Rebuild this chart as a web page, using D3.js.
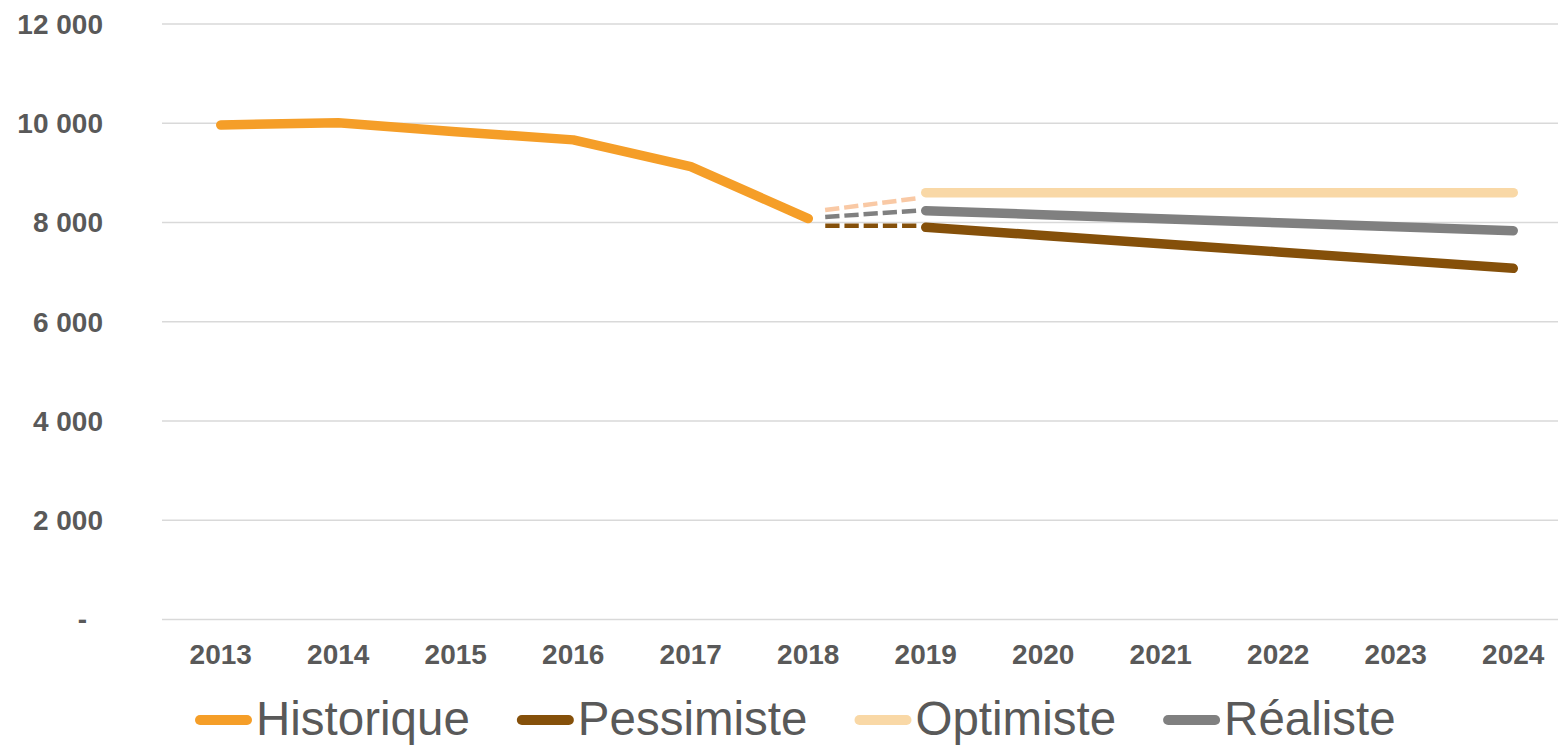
<!DOCTYPE html>
<html>
<head>
<meta charset="utf-8">
<script src="https://cdn.jsdelivr.net/npm/d3@7/dist/d3.min.js"></script>
<style>
  html, body { margin: 0; padding: 0; background: #fff; }
  svg { display: block; }
  text { font-family: "Liberation Sans", Arial, sans-serif; }
</style>
</head>
<body>
<svg id="chart" width="1558" height="745"></svg>
<script>
// ---- Data ----
const years = ["2013","2014","2015","2016","2017","2018","2019","2020","2021","2022","2023","2024"];
const historique = [9965, 10010, 9830, 9665, 9125, 8080, null, null, null, null, null, null];
const pessimiste = [null, null, null, null, null, null, 7903, 7738, 7573, 7407, 7242, 7077];
const optimiste  = [null, null, null, null, null, null, 8600, 8600, 8600, 8600, 8600, 8600];
const realiste   = [null, null, null, null, null, null, 8238, 8157, 8077, 7996, 7916, 7835];
// dashed transition segments (2018 -> 2019)
const transYears = ["2018", "2019"];
const transOptimiste  = [8207, 8510];
const transRealiste   = [8089, 8250];
const transPessimiste = [7935, 7935];
const yTicks = [0, 2000, 4000, 6000, 8000, 10000, 12000];
const yTickLabels = ["-", "2 000", "4 000", "6 000", "8 000", "10 000", "12 000"];
const legendNames = ["Historique", "Pessimiste", "Optimiste", "Réaliste"];

const colors = {
  Historique: "#F59E28",
  Pessimiste: "#85500A",
  Optimiste: "#F9D8A6",
  Réaliste: "#808080",
  transOpt: "#F9C9A5",
  transReal: "#808080",
  transPess: "#85500A"
};

const svg = d3.select("#chart");
const x = d3.scaleBand().domain(years).range([162, 1572]);
const y = d3.scaleLinear().domain([0, 12000]).range([619.5, 24]);
const cx = d => x(d) + x.bandwidth() / 2;

// gridlines
svg.append("g").selectAll("line").data(yTicks).join("line")
  .attr("x1", 162).attr("x2", 1558)
  .attr("y1", d => y(d)).attr("y2", d => y(d))
  .attr("stroke", "#D9D9D9").attr("stroke-width", 1.5);

// y labels
svg.append("g").selectAll("text").data(yTicks).join("text")
  .attr("x", d => d === 0 ? 87 : 103)
  .attr("y", d => y(d))
  .attr("dy", "0.35em")
  .attr("text-anchor", "end")
  .attr("font-size", 28).attr("font-weight", "bold")
  .attr("fill", "#595959")
  .text((d, i) => yTickLabels[i]);

// x labels
svg.append("g").selectAll("text").data(years).join("text")
  .attr("x", d => cx(d))
  .attr("y", 664)
  .attr("text-anchor", "middle")
  .attr("font-size", 28).attr("font-weight", "bold")
  .attr("fill", "#595959")
  .text(d => d);

// dashed transitions
const transLine = d3.line().x(d => cx(d.x)).y(d => y(d.v));
const dashPattern = "0,17,14.3,4.9,14.3,4.9,14.3,4.9,14.3,4.9,14.3,60";
[[transPessimiste, colors.transPess], [transRealiste, colors.transReal], [transOptimiste, colors.transOpt]]
  .forEach(([vals, col]) => {
    svg.append("path")
      .datum(transYears.map((yr, i) => ({x: yr, v: vals[i]})))
      .attr("d", transLine)
      .attr("fill", "none")
      .attr("stroke", col)
      .attr("stroke-width", 4.5)
      .attr("stroke-dasharray", dashPattern);
  });

// solid series
const line = d3.line()
  .defined(d => d.v !== null)
  .x(d => cx(d.x)).y(d => y(d.v));
const series = [
  ["Optimiste", optimiste],
  ["Pessimiste", pessimiste],
  ["Réaliste", realiste],
  ["Historique", historique]
];
series.forEach(([name, vals]) => {
  svg.append("path")
    .datum(years.map((yr, i) => ({x: yr, v: vals[i]})))
    .attr("d", line)
    .attr("fill", "none")
    .attr("stroke", colors[name])
    .attr("stroke-width", 9.5)
    .attr("stroke-linecap", "round")
    .attr("stroke-linejoin", "round");
});

// legend
let lx = 195;
const ly = 720;
legendNames.forEach(name => {
  svg.append("line")
    .attr("x1", lx + 5).attr("x2", lx + 52)
    .attr("y1", ly).attr("y2", ly)
    .attr("stroke", colors[name]).attr("stroke-width", 10)
    .attr("stroke-linecap", "round");
  const t = svg.append("text")
    .attr("x", lx + 61).attr("y", 735)
    .attr("font-size", 47.5)
    .attr("fill", "#595959")
    .text(name);
  lx = lx + 61 + t.node().getComputedTextLength() + 47;
});
</script>
</body>
</html>
